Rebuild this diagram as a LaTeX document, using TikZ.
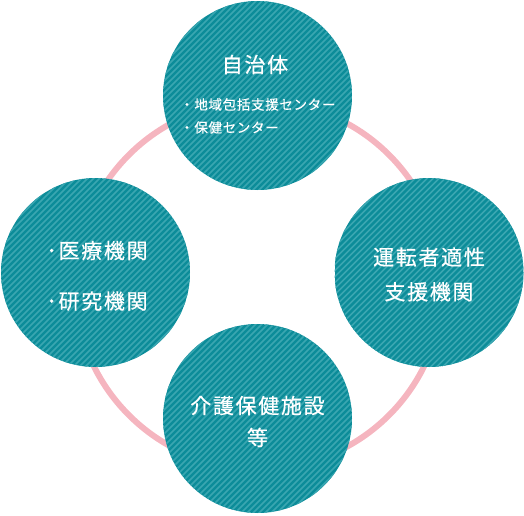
\documentclass[tikz,border=0pt]{standalone}
\usepackage{fontspec}
\newfontfamily\jpbig[LetterSpace=8,FakeBold=0.6]{Noto Sans CJK JP}
\newfontfamily\jpsmall[LetterSpace=5,FakeBold=0.4]{Noto Sans CJK JP}
\definecolor{tealbase}{RGB}{12,140,153}
\definecolor{tealstripe}{RGB}{58,166,177}
\definecolor{ringpink}{RGB}{245,181,191}
\begin{document}
\begin{tikzpicture}[x=1pt,y=-1pt,
  bubble/.style={circle,minimum size=189pt,inner sep=0pt,
    path picture={
      \fill[tealbase] (path picture bounding box.south west) rectangle (path picture bounding box.north east);
      \begin{scope}[shift={(path picture bounding box.center)}]
        \foreach \k in {-24,...,24}{
          \draw[tealstripe,line width=1.6pt] (\k*6-100,100) -- (\k*6+100,-100);
        }
      \end{scope}
    }},
  bigtxt/.style={text=white,inner sep=0pt,anchor=base,font=\jpbig\fontsize{21}{21}\selectfont},
  smalltxt/.style={text=white,inner sep=0pt,anchor=base west,font=\jpsmall\fontsize{13.5}{13.5}\selectfont},
  ring/.style={draw=ringpink,line width=6pt}
]
\useasboundingbox (0,0) rectangle (524,515);
\coordinate (ringc) at (259,285);
\draw[ring] (ringc) circle[radius=184];

\node[bubble] (top) at (257.5,95.5) {};
\node[bubble] (left) at (95.5,272.5) {};
\node[bubble] (right) at (429,272.5) {};
\node[bubble] (bottom) at (257.5,418.5) {};

\node[bigtxt] (t1) at (255,72.5) {自治体};
\node[smalltxt] (t2) at (180,109.6) {・地域包括支援センター};
\node[smalltxt] (t3) at (180,132.6) {・保健センター};

\node[bigtxt] (l1) at (97,258.5) {･医療機関};
\node[bigtxt] (l2) at (97,309) {･研究機関};

\node[bigtxt] (r1) at (429,265) {運転者適性};
\node[bigtxt] (r2) at (429,299.7) {支援機関};

\node[bigtxt] (b1) at (257.5,413.5) {介護保健施設};
\node[bigtxt] (b2) at (257.5,445.5) {等};
\end{tikzpicture}
\end{document}
